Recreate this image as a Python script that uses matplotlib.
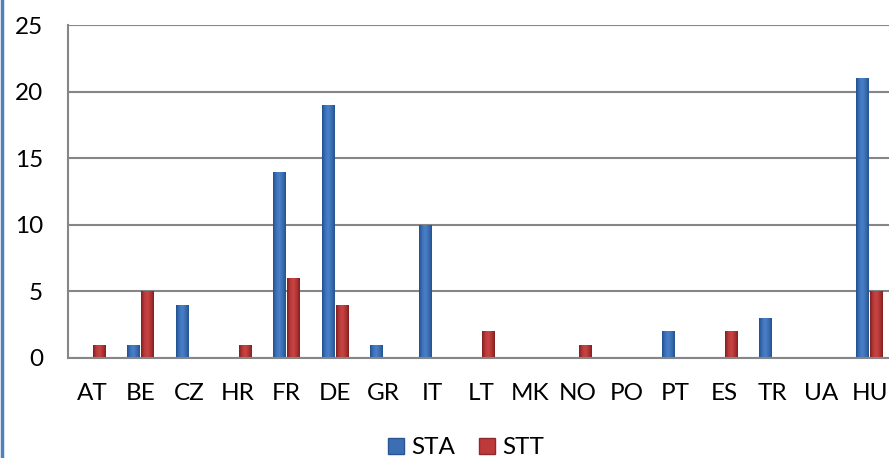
import numpy as np
import matplotlib
matplotlib.use("Agg")
import matplotlib.pyplot as plt
from matplotlib.colors import LinearSegmentedColormap
from matplotlib.lines import Line2D
from matplotlib.patches import Patch

categories = ["AT", "BE", "CZ", "HR", "FR", "DE", "GR", "IT", "LT", "MK",
              "NO", "PO", "PT", "ES", "TR", "UA", "HU"]
sta = [0, 1, 4, 0, 14, 19, 1, 10, 0, 0, 0, 0, 2, 0, 3, 0, 21]
stt = [1, 5, 0, 1, 6, 4, 0, 0, 2, 0, 1, 0, 0, 2, 0, 0, 5]
series_names = ["STA", "STT"]
yticks = [0, 5, 10, 15, 20, 25]

plt.rcParams['font.family'] = ['Lato', 'DejaVu Sans']

fig = plt.figure(figsize=(8.89, 4.58), dpi=100)
ax = fig.add_axes([68/889, 100/458, 826/889, 333/458])

x = np.arange(len(categories))
w = 0.265
off = 0.145
blue_cmap = LinearSegmentedColormap.from_list(
    "b", ["#1F4F8F", "#3D72BA", "#4A80C6", "#3A6DB2", "#23538F"])
red_cmap = LinearSegmentedColormap.from_list(
    "r", ["#7F1F1F", "#B8393A", "#C84544", "#B23535", "#7F2020"])

b1 = ax.bar(x - off, sta, w, color="#3C6EB4", zorder=3, linewidth=0)
b2 = ax.bar(x + off, stt, w, color="#BE3A3A", zorder=3, linewidth=0)

grad = np.linspace(0, 1, 64).reshape(1, -1)
for bars, cmap in ((b1, blue_cmap), (b2, red_cmap)):
    for p in bars:
        h = p.get_height()
        if h <= 0:
            continue
        x0 = p.get_x()
        im = ax.imshow(grad, cmap=cmap, aspect="auto",
                       extent=(x0, x0 + p.get_width(), 0, h),
                       zorder=4, interpolation="bilinear")
        im.set_clip_path(p)

ax.set_xlim(-0.5, len(categories) - 0.5)
ax.set_ylim(0, 25)
ax.set_yticks(yticks)
ax.set_xticks(x)
ax.set_xticklabels(categories)
ax.tick_params(axis="both", length=0, labelsize=17.5, colors="#000000")
ax.tick_params(axis="y", pad=18)
ax.tick_params(axis="x", pad=18)
ax.yaxis.grid(True, color="#868686", linewidth=1.5, zorder=0)
ax.set_axisbelow(True)
for s in ("top", "right"):
    ax.spines[s].set_visible(False)
for s in ("left", "bottom"):
    ax.spines[s].set_color("#868686")
    ax.spines[s].set_linewidth(1.5)
    ax.spines[s].set_zorder(5)

handles = [Patch(facecolor="#3C6EB4", edgecolor="#2A5494"),
           Patch(facecolor="#BE3A3A", edgecolor="#8E2A2A")]
fig.legend(handles, series_names, loc="center", bbox_to_anchor=(466/889, 1 - 448/458),
           ncol=2, frameon=False, fontsize=17.5, handlelength=0.65, handleheight=0.65,
           handletextpad=0.3, columnspacing=1.0)

fig.add_artist(Line2D([1.5/889, 1.5/889], [0, 1], color="#4F81BD", linewidth=2.5,
                      transform=fig.transFigure))

fig.savefig("out.png", dpi=100)
